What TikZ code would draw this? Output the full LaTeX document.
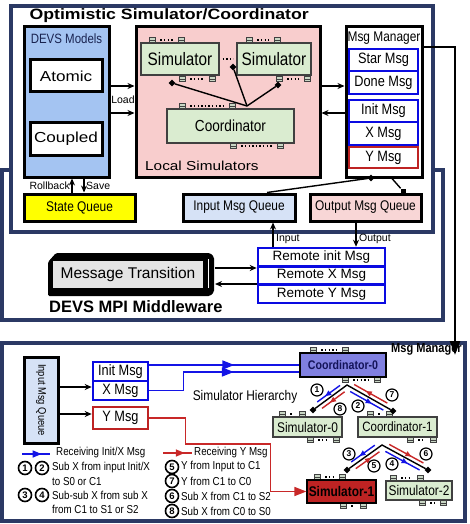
\documentclass[tikz,border=0pt]{standalone}
\usepackage{fontspec}
\setmainfont{Liberation Sans}
\newfontfamily\narrowsf[FakeStretch=0.85]{Liberation Sans}
\newfontfamily\widesf[FakeStretch=1.18]{Liberation Sans}
\usetikzlibrary{positioning, arrows.meta, calc, shapes.geometric, decorations.markings}

\definecolor{navyline}{RGB}{43,57,100}
\definecolor{devsblue}{RGB}{164,196,242}
\definecolor{devstext}{RGB}{25,35,80}
\definecolor{localpink}{RGB}{248,205,205}
\definecolor{simgreen}{RGB}{218,236,208}
\definecolor{portgray}{RGB}{200,214,196}
\definecolor{msgblue}{RGB}{10,10,225}
\definecolor{msgred}{RGB}{190,35,35}
\definecolor{stateyellow}{RGB}{255,255,0}
\definecolor{inqblue}{RGB}{214,226,246}
\definecolor{outqpink}{RGB}{248,214,214}
\definecolor{mtgray}{RGB}{228,228,228}
\definecolor{coordpurple}{RGB}{128,128,224}
\definecolor{coordtext}{RGB}{20,20,90}
\definecolor{simred}{RGB}{190,35,35}
\definecolor{lineblue}{RGB}{20,20,230}
\definecolor{linered}{RGB}{200,40,40}

\newcommand{\fsz}[1]{\fontsize{#1}{#1}\selectfont}

\begin{document}
\begin{tikzpicture}[
		x=1pt, y=-1pt,
		>={Stealth[length=7pt, width=6pt]},
		navyframe/.style={draw=navyline, line width=4pt, fill=white},
		blockbox/.style={draw=black, line width=3pt, inner sep=0pt},
		msgcell/.style={draw=msgblue, line width=2.6pt, fill=white, inner sep=0pt, font=\narrowsf\fsz{15}},
		ycell/.style={msgcell, draw=msgred},
		simbox/.style={draw=black!75, line width=1.2pt, fill=simgreen, inner sep=0pt},
		portbox/.style={draw=black!75, line width=0.6pt, fill=portgray, minimum width=6pt, minimum height=5pt, inner sep=0pt,
			path picture={\draw[line width=0.5pt] (path picture bounding box.west) -- (path picture bounding box.east);}},
		portdots/.style={line width=1.4pt, dash pattern=on 1.4pt off 2.2pt, shorten >=5pt, shorten <=5pt},
		joint/.style={diamond, fill=black, minimum size=7pt, inner sep=0pt},
		link/.style={line width=1.4pt},
		smalllabel/.style={font=\fsz{10.5}, inner sep=0pt},
		legendtext/.style={font=\narrowsf\fsz{11.5}, inner sep=0pt, anchor=west},
		numcirc/.style={circle, draw=black, line width=1.2pt, fill=white, minimum size=12pt, inner sep=0pt, font=\bfseries\fsz{8.5}},
		legnum/.style={numcirc, line width=1.6pt, minimum size=13pt, font=\bfseries\fsz{9.5}},
		bluepath/.style={draw=lineblue, line width=1.6pt, postaction={decorate},
			decoration={markings, mark=at position #1 with {\arrow{Triangle[length=12pt, width=9pt]}}}},
		treearrow/.style={line width=1.4pt, postaction={decorate},
			decoration={markings, mark=at position 0.65 with {\arrow{Triangle[length=6pt, width=5pt]}}}}
	]
	\useasboundingbox (0,0) rectangle (470,524);
	
	% --- frames ---
	\draw[navyframe] (2,170) rectangle (443,320);
	\draw[navyframe] (11,6) rectangle (433,232);
	\draw[navyframe] (2,343) rectangle (465,521);
	
	\node[anchor=west, font=\widesf\bfseries\fsz{15}] (title) at (26,16) {Optimistic Simulator/Coordinator};
	
	% --- DEVS models ---
	\node[blockbox, fill=devsblue, minimum width=85pt, minimum height=150pt] (devs) at (66.5,102) {};
	\node[font=\narrowsf\fsz{13.5}, text=devstext] (devstitle) at (66.5,39) {DEVS Models};
	\node[blockbox, fill=white, minimum width=72pt, minimum height=32pt, font=\widesf\fsz{14.5}] (atomic) at (66,76) {Atomic};
	\node[blockbox, fill=white, minimum width=72pt, minimum height=33pt, font=\widesf\fsz{14.5}] (coupled) at (66,138.5) {Coupled};
	
	% --- local simulators ---
	\node[blockbox, fill=localpink, minimum width=184pt, minimum height=150pt] (local) at (228,102) {};
	\node[anchor=west, font=\widesf\fsz{13}, inner sep=0pt] (localtitle) at (145,166) {Local Simulators};
	\node[simbox, minimum width=78pt, minimum height=32pt, font=\narrowsf\fsz{18}] (simA) at (180,59) {Simulator};
	\node[simbox, minimum width=74pt, minimum height=32pt, font=\narrowsf\fsz{18}] (simB) at (274,59) {Simulator};
	\node[simbox, minimum width=127pt, minimum height=34pt, font=\narrowsf\fsz{16}] (coordA) at (230.5,126) {Coordinator};
	\draw[portdots, shorten <=3pt, shorten >=3pt] (simA.east) -- (simB.west);
	
	\node[joint] (jA) at (172,83) {};
	\node[joint] (jB) at (233,67) {};
	\node[joint] (jC) at (278,85) {};
	\coordinate (hub) at (247,106);
	\draw[link] (hub) -- (jA);
	\draw[link] (hub) -- (jB);
	\draw[link] (hub) -- (jC);
	
	% ports of all the simulator boxes (top and bottom picture)
	\foreach \a/\b/\y [count=\i] in {152/181/40, 182/212/79, 249/277/40, 279/307/79, 182/232/106, 233/280/146,
		313/345/350, 345/377/380, 282/302/414, 310/336/440, 370/389/414, 410/433/440,
		317/342/477, 343/363/506, 393/420/478, 422/443/503}{
		\node[portbox] (pl\i) at (\a,\y) {};
		\node[portbox] (pr\i) at (\b,\y) {};
		\draw[portdots] (pl\i) -- (pr\i);
	}
	
	\draw[link, ->] ([yshift=16pt]devs.east) -- ([yshift=16pt]local.west);
	\draw[link, ->] ([yshift=-11pt]devs.east) -- ([yshift=-11pt]local.west);
	\node[smalllabel] (load) at (123,100) {Load};
	
	% --- msg manager ---
	\node[blockbox, fill=white, minimum width=76pt, minimum height=150pt] (mgr) at (384,102) {};
	\node[font=\narrowsf\fsz{14}] (mgrtitle) at (384,38) {Msg Manager};
	\node[msgcell, minimum width=69pt, minimum height=22pt] (star) at (383.5,60) {Star Msg};
	\node[msgcell, minimum width=69pt, minimum height=23pt] (done) at (383.5,82.5) {Done Msg};
	\node[msgcell, minimum width=69pt, minimum height=22pt] (initA) at (383.5,111) {Init Msg};
	\node[msgcell, minimum width=69pt, minimum height=23pt] (xA) at (383.5,133.5) {X Msg};
	\node[ycell, minimum width=69pt, minimum height=21pt] (yA) at (383.5,157.5) {Y Msg};
	
	\draw[link, ->] ([yshift=16pt]local.east) -- ([yshift=16pt]mgr.west);
	\draw[link, ->] ([yshift=-11pt]mgr.west) -- ([yshift=-11pt]local.east);
	
	% --- queues ---
	\node[blockbox, fill=stateyellow, minimum width=111pt, minimum height=27pt, font=\narrowsf\fsz{14}] (stateq) at (79.5,207.5) {State Queue};
	\node[blockbox, fill=inqblue, minimum width=112pt, minimum height=27pt, font=\narrowsf\fsz{14}] (inq) at (239,207.5) {Input Msg Queue};
	\node[blockbox, fill=outqpink, minimum width=111pt, minimum height=27pt, font=\narrowsf\fsz{14}] (outq) at (365.5,207.5) {Output Msg Queue};
	
	\coordinate (rbx) at (72,0);
	\coordinate (svx) at (84,0);
	\draw[link, ->] (stateq.north -| rbx) -- (devs.south -| rbx);
	\draw[link, ->] (devs.south -| svx) -- (stateq.north -| svx);
	\node[smalllabel, anchor=east] (rollback) at (70,186) {Rollback};
	\node[smalllabel, anchor=west] (save) at (86,186) {Save};
	
	\node[joint] (jM) at (371,178) {};
	\coordinate (inqx) at (267,0);
	\draw[link] (jM) -- (inq.north -| inqx);
	\node[fill=black, minimum size=5pt, inner sep=0pt] (sqO) at (403,191) {};
	\coordinate (mgrx) at (392,0);
	\draw[link] (mgr.south -| mgrx) -- (sqO);
	
	% --- middleware ---
	\fill[black, rounded corners=1.5pt] (48,262) -- (56,253) -- (210,253) -- (214,257) -- (214,292) -- (210,296) -- (48,296) -- cycle;
	\node[fill=mtgray, minimum width=150pt, minimum height=27pt, inner sep=0pt, font=\fsz{15.5}] (msgtr) at (128,274.5) {Message Transition};
	\draw[white, line width=1pt] (208,259) -- (208,288);
	\coordinate (mtE) at (215,276);
	\node[anchor=west, font=\bfseries\fsz{16.5}, inner sep=0pt] (mpititle) at (49,307) {DEVS MPI Middleware};
	
	\node[msgcell, font=\fsz{13.5}, minimum width=127pt, minimum height=18.3pt] (rinit) at (321.5,257.2) {Remote init Msg};
	\node[msgcell, font=\fsz{13.5}, minimum width=127pt, minimum height=18.3pt] (rx) at (321.5,275.5) {Remote X Msg};
	\node[msgcell, font=\fsz{13.5}, minimum width=127pt, minimum height=18.3pt] (ry) at (321.5,293.8) {Remote Y Msg};
	
	\draw[link, ->] ([yshift=8pt]mtE) -- ([yshift=8pt]mtE -| rx.west);
	\draw[link, ->] ([yshift=-8pt]mtE -| rx.west) -- ([yshift=-8pt]mtE);
	
	\coordinate (inx) at (273,0);
	\coordinate (outx) at (356,0);
	\draw[link, ->] (rinit.north -| inx) -- (inq.south -| inx);
	\draw[link, ->] (outq.south -| outx) -- (rinit.north -| outx);
	\node[smalllabel, anchor=west] (inlabel) at (276,239) {Input};
	\node[smalllabel, anchor=west] (outlabel) at (359,239) {Output};
	
	% --- manager to hierarchy ---
	\coordinate (bigturn) at (455,47);
	\coordinate (bigend) at (455,355);
	\draw[line width=2.5pt, -{Triangle[length=14pt, width=10pt]}] (mgr.east |- bigturn) -- (bigturn) -- (bigend);
	
	% --- simulator hierarchy ---
	\node[blockbox, fill=inqblue, rotate=-90, minimum width=86pt, minimum height=34pt, font=\narrowsf\fsz{11}] (vinq) at (41,400) {Input Msg Queue};
	\node[msgcell, minimum width=55pt, minimum height=19pt] (binit) at (120.5,371.5) {Init Msg};
	\node[msgcell, minimum width=55pt, minimum height=19pt] (bx) at (120.5,390.5) {X Msg};
	\node[ycell, minimum width=55pt, minimum height=22pt] (by) at (120.5,418) {Y Msg};
	
	\draw[link, ->] ([yshift=13pt]vinq.north) -- ([yshift=13pt]vinq.north -| bx.west);
	\draw[link, ->] ([yshift=-14pt]vinq.north) -- ([yshift=-14pt]vinq.north -| by.west);
	
	\node[simbox, draw=black, fill=coordpurple, minimum width=86pt, minimum height=24pt, font=\narrowsf\bfseries\fsz{12.5}, text=coordtext] (c0) at (343,365) {Coordinator-0};
	\node[simbox, minimum width=69pt, minimum height=20pt, font=\narrowsf\fsz{14}] (s0) at (307.5,427) {Simulator-0};
	\node[simbox, minimum width=79pt, minimum height=20pt, font=\narrowsf\fsz{13.5}] (c1) at (397.5,427) {Coordinator-1};
	\node[simbox, draw=black, fill=simred, minimum width=69pt, minimum height=23pt, font=\narrowsf\bfseries\fsz{14}] (s1) at (341.5,491.5) {Simulator-1};
	\node[simbox, minimum width=66pt, minimum height=19pt, font=\narrowsf\fsz{14}] (s2) at (419,490.5) {Simulator-2};
	\node[anchor=east, font=\narrowsf\bfseries\fsz{13}, inner sep=0pt] (mgrB) at (462,349) {Msg Manager};
	\node[font=\narrowsf\fsz{14}] (hier) at (245,397) {Simulator Hierarchy};
	
	\draw[bluepath=85pt] ([yshift=6.5pt]binit.east) -- ([yshift=6.5pt]binit.east -| c0.west);
	\draw[bluepath=103pt] (bx.east) -- ++(34,0) |- ([yshift=-7pt]c0.west);
	\draw[link, draw=linered, -{Triangle[length=12pt, width=9pt]}] (by.east) -- ++(36,0) -- ++(0,26) -| ([xshift=-36pt]s1.west) -- (s1.west);
	
	% tree links
	\node[joint] (t0l) at (313,410) {};
	\node[joint] (t0r) at (393,411) {};
	\node[joint] (t1l) at (347,470) {};
	\node[joint] (t1r) at (428,470) {};
	\coordinate (apex0) at (347,385);
	\coordinate (apex1) at (382,445);
	\draw[link] (t0l) -- (apex0) -- (t0r);
	\draw[link] (t1l) -- (apex1) -- (t1r);
	
	\foreach \col/\xa/\ya/\xb/\yb in {lineblue/340/385.4/317.2/402, linered/344.6/391.8/322/408.4,
		lineblue/350.2/391.5/383.3/410.1, linered/387.3/403.1/354.2/384.5,
		lineblue/374.8/445.2/351.2/462, linered/355.8/468.6/379.4/451.8,
		linered/389.2/444.4/423.4/463, lineblue/385.4/451.4/419.6/470}
		\draw[treearrow, draw=\col, fill=\col] (\xa,\ya) -- (\xb,\yb);
	
	\foreach \n/\x/\y in {1/317/390, 8/340/409, 2/358/406, 7/392/395, 3/349/454, 5/374/466, 4/392/464, 6/426/454}
		\node[numcirc] (n\n) at (\x,\y) {\n};
	
	% --- legend ---
	\coordinate (lb1) at (22,454);
	\coordinate (lb2) at (50,454);
	\draw[draw=lineblue, line width=1.6pt, postaction={decorate},
		decoration={markings, mark=at position 0.7 with {\arrow{Triangle[length=9pt, width=7pt]}}}] (lb1) -- (lb2);
	\node[legendtext] (leg1) at (56,453) {Receiving Init/X Msg};
	\node[legnum] (ln1) at (25,468) {1};
	\node[legnum] (ln2) at (42,468) {2};
	\node[legendtext] (leg2) at (52,468) {Sub X from input Init/X};
	\node[legendtext] (leg3) at (52,482) {to S0 or C1};
	\node[legnum] (ln3) at (25,495) {3};
	\node[legnum] (ln4) at (42,495) {4};
	\node[legendtext] (leg4) at (52,495) {Sub-sub X from sub X};
	\node[legendtext] (leg5) at (52,509) {from C1 to S1 or S2};
	
	\coordinate (lr1) at (163,453);
	\coordinate (lr2) at (192,453);
	\draw[draw=linered, line width=1.6pt, postaction={decorate},
		decoration={markings, mark=at position 0.75 with {\arrow{Triangle[length=9pt, width=7pt]}}}] (lr1) -- (lr2);
	\node[legendtext] (leg6) at (194,453) {Receiving Y Msg};
	\foreach \n/\y/\txt in {5/467/Y from Input to C1, 7/481/Y from C1 to C0, 6/496/Sub X from C1 to S2, 8/511/Sub X from C0 to S0}{
		\node[legnum] (ln\n) at (172,\y) {\n};
		\node[legendtext] (legr\n) at (181,\y) {\txt};
	}
	
\end{tikzpicture}
\end{document}
